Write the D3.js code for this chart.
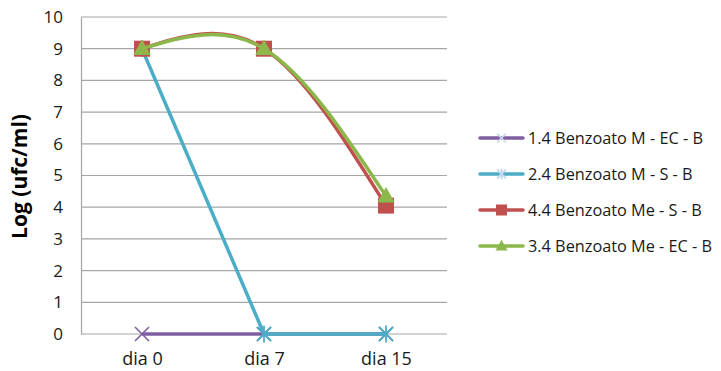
<!DOCTYPE html>
<html>
<head>
<meta charset="utf-8">
<script src="https://cdn.jsdelivr.net/npm/d3@7"></script>
<style>
  html, body { margin: 0; padding: 0; background: #fff; }
  svg { display: block; font-family: "Open Sans", Lato, sans-serif; }
</style>
</head>
<body>
<svg id="chart" width="721" height="371"></svg>
<script>
// Survival counts, Log (ufc/ml), per sampling day
const days = ["dia 0", "dia 7", "dia 15"];
const yTicks = [0, 1, 2, 3, 4, 5, 6, 7, 8, 9, 10];

const seriesNames = [
  "1.4 Benzoato M - EC - B",
  "2.4 Benzoato M - S - B",
  "4.4 Benzoato Me - S - B",
  "3.4 Benzoato Me - EC - B"
];
const valuesMEC = [0, 0, 0];
const valuesMS  = [9, 0, 0];
const valuesMeS = [9, 9, 4.05];
const valuesMeEC = [9, 9, 4.35];

const colors  = ["#7f5fa2", "#4badc6", "#c0504d", "#8cb84b"];
const markers = ["x", "star", "square", "triangle"];
const smooth  = [false, false, true, true];
const seriesValues = [valuesMEC, valuesMS, valuesMeS, valuesMeEC];

const svg = d3.select("#chart");
const plot = { left: 81, right: 447, top: 17, bottom: 334 };

const x = d3.scalePoint().domain(days).range([plot.left, plot.right]).padding(0.5);
const y = d3.scaleLinear().domain([0, 10]).range([plot.bottom, plot.top]);

// horizontal gridlines
svg.append("g")
  .selectAll("line")
  .data(yTicks)
  .join("line")
  .attr("x1", plot.left).attr("x2", plot.right)
  .attr("y1", d => y(d)).attr("y2", d => y(d))
  .attr("stroke", "#a6a6a6").attr("stroke-width", 1.2);

// y axis
const yAxis = svg.append("g")
  .attr("transform", `translate(${plot.left},0)`)
  .call(d3.axisLeft(y).tickValues(yTicks).tickSize(0).tickPadding(18));
yAxis.select(".domain").attr("stroke", "#a6a6a6").attr("stroke-width", 1.2);
yAxis.selectAll("text").attr("font-size", 17).attr("fill", "#1a1a1a")
  .attr("font-family", "'Open Sans', sans-serif");

// x axis labels
const xAxis = svg.append("g")
  .attr("transform", `translate(0,${plot.bottom})`)
  .call(d3.axisBottom(x).tickSize(0).tickPadding(0));
xAxis.select(".domain").remove();
xAxis.selectAll("text")
  .attr("y", 31).attr("dy", null)
  .attr("font-size", 18).attr("fill", "#1a1a1a")
  .attr("font-family", "'Open Sans', sans-serif");

// y axis title
svg.append("text")
  .attr("transform", `translate(27,${(plot.top + plot.bottom) / 2 + 1}) rotate(-90)`)
  .attr("text-anchor", "middle")
  .attr("font-size", 21).attr("font-weight", "bold").attr("fill", "#000")
  .text("Log (ufc/ml)");

function drawMarker(g, type, color, cx, cy, s) {
  if (type === "x") {
    g.append("path")
      .attr("d", `M${cx - s},${cy - s}L${cx + s},${cy + s}M${cx - s},${cy + s}L${cx + s},${cy - s}`)
      .attr("stroke", color).attr("stroke-width", 1.6).attr("fill", "none");
  } else if (type === "star") {
    g.append("path")
      .attr("d", `M${cx - s},${cy - s}L${cx + s},${cy + s}M${cx - s},${cy + s}L${cx + s},${cy - s}M${cx},${cy - s * 1.2}L${cx},${cy + s * 1.2}`)
      .attr("stroke", color).attr("stroke-width", 1.8).attr("fill", "none");
  } else if (type === "square") {
    g.append("rect")
      .attr("x", cx - s).attr("y", cy - s).attr("width", 2 * s).attr("height", 2 * s)
      .attr("fill", color);
  } else if (type === "triangle") {
    g.append("path")
      .attr("d", `M${cx},${cy - s * 1.15}L${cx + s * 1.1},${cy + s * 0.8}L${cx - s * 1.1},${cy + s * 0.8}Z`)
      .attr("fill", color);
  }
}

// series lines and markers
seriesValues.forEach((vals, i) => {
  const g = svg.append("g");
  const line = d3.line()
    .x((d, j) => x(days[j]))
    .y(d => y(d))
    .curve(smooth[i] ? d3.curveNatural : d3.curveLinear);
  g.append("path")
    .datum(vals)
    .attr("d", line)
    .attr("fill", "none")
    .attr("stroke", colors[i])
    .attr("stroke-width", 3.5)
    .attr("stroke-linejoin", "round");
  vals.forEach((v, j) => {
    const size = markers[i] === "square" ? 8 : markers[i] === "triangle" ? 8 : 7;
    drawMarker(g, markers[i], colors[i], x(days[j]), y(v), size);
  });
});

// legend
const legend = svg.append("g");
const legendY = d3.scalePoint().domain(seriesNames).range([138, 246]);
seriesNames.forEach((name, i) => {
  const ly = legendY(name);
  const lg = legend.append("g");
  lg.append("line")
    .attr("x1", 480).attr("x2", 523).attr("y1", ly).attr("y2", ly)
    .attr("stroke", colors[i]).attr("stroke-width", 3.5).attr("stroke-linecap", "round");
  const s = markers[i] === "square" ? 5.5 : markers[i] === "triangle" ? 5.5 : 4.5;
  drawMarker(lg, markers[i], markers[i] === "x" || markers[i] === "star" ? "#c9d7ea" : colors[i], 501.5, ly, s);
  lg.append("text")
    .attr("x", 528).attr("y", ly).attr("dy", "0.35em")
    .attr("font-size", 16.3).attr("fill", "#1a1a1a")
    .text(name);
});
</script>
</body>
</html>
